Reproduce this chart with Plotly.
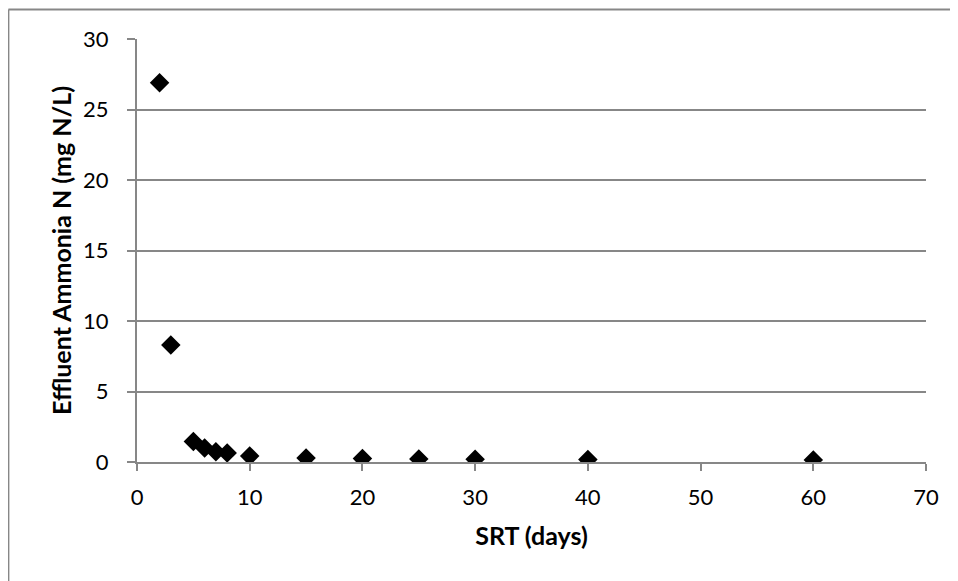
import plotly.graph_objects as go

# SRT (days) and effluent ammonia N (mg N/L)
srt_days = [2, 3, 5, 6, 7, 8, 10, 15, 20, 25, 30, 40, 60]
ammonia_n = [26.9, 8.3, 1.45, 1.0, 0.72, 0.64, 0.42, 0.28, 0.24, 0.22, 0.19, 0.17, 0.15]

x_ticks = [0, 10, 20, 30, 40, 50, 60, 70]
y_ticks = [0, 5, 10, 15, 20, 25, 30]

FONT = 'Lato, Calibri, Carlito, sans-serif'
GRAY = '#878787'

fig = go.Figure()

fig.add_trace(go.Scatter(
    x=srt_days,
    y=ammonia_n,
    mode='markers',
    marker=dict(symbol='diamond', size=15, color='black',
                line=dict(color='black', width=0)),
    hovertemplate='SRT %{x} d<br>%{y} mg N/L<extra></extra>',
    showlegend=False
))

# chart frame (only top and left edges show in the crop)
fig.add_shape(type='line', xref='paper', yref='paper',
              x0=-0.163, x1=1.1, y0=1.0697, y1=1.0697,
              line=dict(color=GRAY, width=2))
fig.add_shape(type='line', xref='paper', yref='paper',
              x0=-0.163, x1=-0.163, y0=1.0697, y1=-0.35,
              line=dict(color=GRAY, width=2))

# the page body adds an 8px offset, so margins are shifted to compensate
fig.update_layout(
    width=958,
    height=581,
    margin=dict(l=129, r=40, t=31, b=127),
    plot_bgcolor='white',
    paper_bgcolor='white',
    font=dict(family=FONT, size=22, color='black'),
    xaxis=dict(
        range=[0, 70],
        tickvals=x_ticks,
        showgrid=False,
        zeroline=False,
        showline=True,
        linecolor=GRAY,
        linewidth=2,
        ticks='outside',
        ticklen=7,
        tickwidth=2,
        tickcolor=GRAY,
        ticklabelstandoff=8,
        title=dict(text='<b>SRT (days)</b>', font=dict(size=25), standoff=18),
    ),
    yaxis=dict(
        range=[0, 30],
        tickvals=y_ticks,
        showgrid=True,
        gridcolor=GRAY,
        gridwidth=2,
        zeroline=False,
        showline=True,
        linecolor=GRAY,
        linewidth=2,
        ticks='outside',
        ticklen=8,
        tickwidth=2,
        tickcolor=GRAY,
        ticklabelstandoff=14,
        title=dict(text='<b>Effluent Ammonia N (mg N/L)</b>', font=dict(size=25), standoff=4),
    ),
)

fig.write_html('out.html')
